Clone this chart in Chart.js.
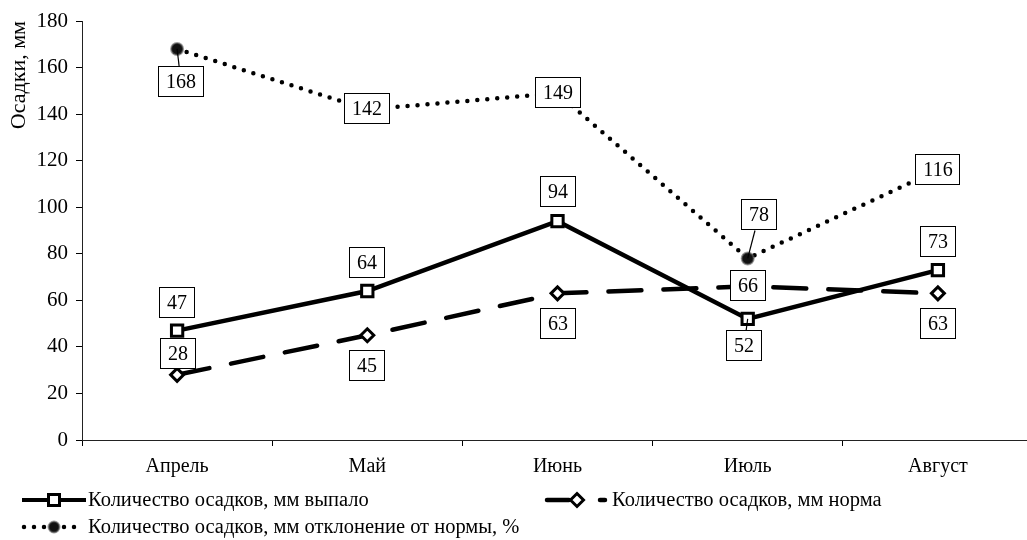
<!DOCTYPE html>
<html>
<head>
<meta charset="utf-8">
<script src="https://cdn.jsdelivr.net/npm/chart.js@4/dist/chart.umd.min.js"></script>
<style>
  html, body { margin: 0; padding: 0; background: #fff; overflow: hidden; }
  #c { display: block; }
</style>
</head>
<body>
<canvas id="c" width="1033" height="540" style="width:1033px;height:540px"></canvas>
<script>
// Months and monthly precipitation values
const months = ['Апрель', 'Май', 'Июнь', 'Июль', 'Август'];
const fallen = [47, 64, 94, 52, 73];          // выпало, мм
const norm = [28, 45, 63, 66, 63];            // норма, мм
const deviation = [168, 142, 149, 78, 116];   // отклонение от нормы, %
const seriesNames = [
  'Количество осадков, мм выпало',
  'Количество осадков, мм норма',
  'Количество осадков, мм отклонение от нормы, %'
];
const yMin = 0, yMax = 180, yStep = 20;
const axisTitle = 'Осадки, мм';

const SERIF = "'Liberation Serif', 'Times New Roman', serif";

// Where each value box sits relative to its point: [dx, dy, leader line]
const labelShift = [
  [[0, -28], [0, -28], [0, -29], [-4, 27, true], [0, -28]],
  [[1, -21], [0, 31], [0, 31], [0, 0], [0, 31]],
  [[4, 33, true], [0, 0], [0, 0], [11, -43, true], [0, 0]]
];

// Boxed value labels with optional leader lines
const boxLabels = {
  id: 'boxLabels',
  afterDatasetsDraw(chart) {
    const ctx = chart.ctx;
    ctx.save();
    ctx.font = '20px ' + SERIF;
    ctx.textAlign = 'center';
    ctx.textBaseline = 'middle';
    chart.data.datasets.forEach((ds, di) => {
      const meta = chart.getDatasetMeta(di);
      meta.data.forEach((pt, i) => {
        const txt = String(ds.data[i]);
        const [dx, dy, leader] = labelShift[di][i];
        const w = Math.round(ctx.measureText(txt).width) + 16;
        const h = 31;
        const cx = Math.round(pt.x + dx), cy = Math.round(pt.y + dy);
        const bx = cx - Math.round(w / 2), by = cy - Math.round(h / 2);
        if (leader) {
          // end of the leader where the segment meets the box edge
          const vx = cx - pt.x, vy = cy - pt.y;
          let t = 1;
          if (vx !== 0) t = Math.min(t, (w / 2) / Math.abs(vx));
          if (vy !== 0) t = Math.min(t, (h / 2) / Math.abs(vy));
          const ex = cx - vx * t, ey = cy - vy * t;
          ctx.beginPath();
          ctx.strokeStyle = '#000';
          ctx.lineWidth = 1.2;
          ctx.moveTo(pt.x, pt.y);
          ctx.lineTo(ex, ey);
          ctx.stroke();
        }
        ctx.fillStyle = '#fff';
        ctx.fillRect(bx, by, w, h);
        ctx.strokeStyle = '#000';
        ctx.lineWidth = 1;
        ctx.strokeRect(bx + 0.5, by + 0.5, w - 1, h - 1);
        ctx.fillStyle = '#000';
        ctx.fillText(txt, cx, cy + 1);
      });
    });
    ctx.restore();
  }
};

// Legend laid out in two columns / two rows under the axis
const sideLegend = {
  id: 'sideLegend',
  afterDraw(chart) {
    const ctx = chart.ctx;
    const ds = chart.data.datasets;
    ctx.save();
    ctx.font = '20.5px ' + SERIF;
    ctx.textAlign = 'left';
    ctx.textBaseline = 'middle';
    ctx.fillStyle = '#000';
    const row1 = 500, row2 = 527;

    // solid line with square marker
    ctx.beginPath();
    ctx.strokeStyle = '#000';
    ctx.lineWidth = 4;
    ctx.lineCap = 'butt';
    ctx.moveTo(22, row1); ctx.lineTo(86, row1);
    ctx.stroke();
    ctx.lineWidth = 3;
    ctx.fillStyle = '#fff';
    ctx.fillRect(48.5, row1 - 5.5, 11, 11);
    ctx.strokeRect(48.5, row1 - 5.5, 11, 11);
    ctx.fillStyle = '#000';
    ctx.fillText(ds[0].label, 88, row1 + 1);

    // long dash with diamond marker
    ctx.beginPath();
    ctx.lineWidth = 4.5;
    ctx.lineCap = 'round';
    ctx.setLineDash([22, 31]);
    ctx.moveTo(547, row1); ctx.lineTo(605, row1);
    ctx.stroke();
    ctx.setLineDash([]);
    ctx.beginPath();
    ctx.lineWidth = 3;
    ctx.fillStyle = '#fff';
    ctx.moveTo(577, row1 - 6.5); ctx.lineTo(583.5, row1);
    ctx.lineTo(577, row1 + 6.5); ctx.lineTo(570.5, row1);
    ctx.closePath();
    ctx.fill(); ctx.stroke();
    ctx.fillStyle = '#000';
    ctx.fillText(ds[1].label, 612, row1 + 1);

    // dotted with round marker
    ctx.beginPath();
    ctx.lineWidth = 4.5;
    ctx.lineCap = 'round';
    ctx.setLineDash([0, 10]);
    ctx.moveTo(24, row2); ctx.lineTo(80, row2);
    ctx.stroke();
    ctx.setLineDash([]);
    ctx.beginPath();
    ctx.arc(54, row2, 5.5, 0, Math.PI * 2);
    ctx.fillStyle = '#111';
    ctx.fill();
    ctx.lineWidth = 2;
    ctx.strokeStyle = 'rgba(90,90,90,0.6)';
    ctx.stroke();
    ctx.fillStyle = '#000';
    ctx.fillText(ds[2].label, 88, row2 + 1);
    ctx.restore();
  }
};

new Chart(document.getElementById('c'), {
  type: 'line',
  data: {
    labels: months,
    datasets: [
      {
        label: seriesNames[0],
        data: fallen,
        borderColor: '#000',
        borderWidth: 4.5,
        pointStyle: 'rect',
        pointRadius: 8,
        pointBackgroundColor: '#fff',
        pointBorderColor: '#000',
        pointBorderWidth: 3,
        tension: 0
      },
      {
        label: seriesNames[1],
        data: norm,
        borderColor: '#000',
        borderWidth: 4.5,
        borderDash: [33, 22],
        borderCapStyle: 'round',
        pointStyle: 'rectRot',
        pointRadius: 6.5,
        pointBackgroundColor: '#fff',
        pointBorderColor: '#000',
        pointBorderWidth: 3,
        tension: 0
      },
      {
        label: seriesNames[2],
        data: deviation,
        borderColor: '#000',
        borderWidth: 4.5,
        borderDash: [0, 10],
        borderCapStyle: 'round',
        pointStyle: 'circle',
        pointRadius: 6,
        pointBackgroundColor: '#111',
        pointBorderColor: 'rgba(90,90,90,0.6)',
        pointBorderWidth: 2,
        tension: 0
      }
    ]
  },
  options: {
    responsive: false,
    animation: false,
    events: [],
    devicePixelRatio: 1,
    layout: { autoPadding: false, padding: { top: 21, right: 0, bottom: 0, left: 0 } },
    plugins: {
      legend: { display: false },
      tooltip: { enabled: false }
    },
    scales: {
      x: {
        offset: true,
        grid: { offset: true, drawOnChartArea: false, drawTicks: true, tickLength: 6, color: '#000' },
        border: { display: true, color: '#222', width: 1 },
        ticks: { color: '#000', font: { family: SERIF, size: 20 }, padding: 9, maxRotation: 0, autoSkip: false },
        afterFit(s) { s.height = 100; s.paddingRight = 0; s.paddingLeft = 0; }
      },
      y: {
        min: yMin,
        max: yMax,
        grid: { drawOnChartArea: false, drawTicks: true, tickLength: 6, color: '#000' },
        border: { display: true, color: '#222', width: 1 },
        ticks: { stepSize: yStep, color: '#000', font: { family: SERIF, size: 21 }, padding: 8 },
        title: {
          display: true,
          text: axisTitle,
          align: 'end',
          color: '#000',
          font: { family: SERIF, size: 22 },
          padding: { top: 6, bottom: 0 }
        },
        afterFit(s) { s.width = 82; }
      }
    }
  },
  plugins: [boxLabels, sideLegend]
});
</script>
</body>
</html>
